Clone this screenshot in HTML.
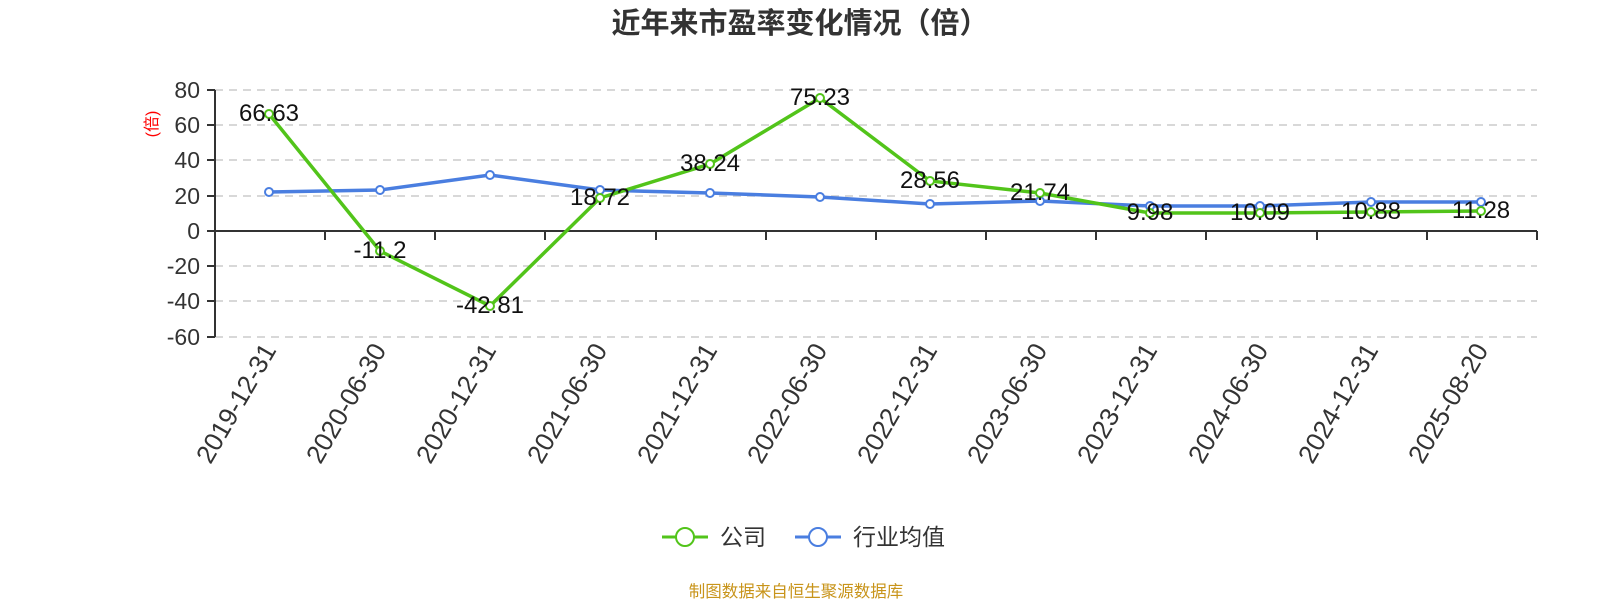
<!DOCTYPE html>
<html><head><meta charset="utf-8"><style>
body{margin:0;background:#fff;}
svg{display:block;font-family:"Liberation Sans","Noto Sans CJK SC",sans-serif;}
</style></head><body>
<svg width="1600" height="600" xmlns="http://www.w3.org/2000/svg">
<text x="800" y="33" text-anchor="middle" font-size="29" font-weight="bold" fill="#333">近年来市盈率变化情况（倍）</text>
<g stroke="#ccc" stroke-width="1.5" stroke-dasharray="8,6">
<line x1="215" y1="90" x2="1537" y2="90"/><line x1="215" y1="125" x2="1537" y2="125"/><line x1="215" y1="160" x2="1537" y2="160"/><line x1="215" y1="196" x2="1537" y2="196"/>
<line x1="215" y1="266" x2="1537" y2="266"/><line x1="215" y1="301" x2="1537" y2="301"/><line x1="215" y1="337" x2="1537" y2="337"/>
</g>
<g stroke="#333" stroke-width="2">
<line x1="215" y1="90" x2="215" y2="337"/>
<line x1="215" y1="231" x2="1537" y2="231"/>
<line x1="207" y1="90" x2="215" y2="90"/><line x1="207" y1="125" x2="215" y2="125"/><line x1="207" y1="160" x2="215" y2="160"/><line x1="207" y1="196" x2="215" y2="196"/><line x1="207" y1="231" x2="215" y2="231"/><line x1="207" y1="266" x2="215" y2="266"/><line x1="207" y1="301" x2="215" y2="301"/><line x1="207" y1="337" x2="215" y2="337"/>
<line x1="325" y1="231" x2="325" y2="240"/><line x1="435" y1="231" x2="435" y2="240"/><line x1="545" y1="231" x2="545" y2="240"/><line x1="656" y1="231" x2="656" y2="240"/><line x1="766" y1="231" x2="766" y2="240"/><line x1="876" y1="231" x2="876" y2="240"/><line x1="986" y1="231" x2="986" y2="240"/><line x1="1096" y1="231" x2="1096" y2="240"/><line x1="1206" y1="231" x2="1206" y2="240"/><line x1="1317" y1="231" x2="1317" y2="240"/><line x1="1427" y1="231" x2="1427" y2="240"/><line x1="1537" y1="231" x2="1537" y2="240"/>
</g>
<g font-size="23" fill="#333" text-anchor="end">
<text x="200" y="98">80</text><text x="200" y="133">60</text><text x="200" y="168">40</text><text x="200" y="204">20</text><text x="200" y="239">0</text><text x="200" y="274">-20</text><text x="200" y="309">-40</text><text x="200" y="345">-60</text>
</g>
<text transform="translate(157,124) rotate(-90)" text-anchor="middle" font-size="16" fill="red">(倍)</text>
<g font-size="26" fill="#333" text-anchor="end">
<text transform="translate(277,350) rotate(-60)">2019-12-31</text>
<text transform="translate(387,350) rotate(-60)">2020-06-30</text>
<text transform="translate(497,350) rotate(-60)">2020-12-31</text>
<text transform="translate(608,350) rotate(-60)">2021-06-30</text>
<text transform="translate(718,350) rotate(-60)">2021-12-31</text>
<text transform="translate(828,350) rotate(-60)">2022-06-30</text>
<text transform="translate(938,350) rotate(-60)">2022-12-31</text>
<text transform="translate(1048,350) rotate(-60)">2023-06-30</text>
<text transform="translate(1158,350) rotate(-60)">2023-12-31</text>
<text transform="translate(1269,350) rotate(-60)">2024-06-30</text>
<text transform="translate(1379,350) rotate(-60)">2024-12-31</text>
<text transform="translate(1489,350) rotate(-60)">2025-08-20</text>
</g>
<polyline fill="none" stroke="#4a7ee0" stroke-width="3.5" points="269,192 380,190 490,175 600,190 710,193 820,197 930,204 1040,201 1150,206 1260,206 1371,202 1481,202"/>
<polyline fill="none" stroke="#52c41a" stroke-width="3.5" points="269,114 380,251 490,306 600,198 710,164 820,98 930,181 1040,193 1150,213 1260,213 1371,212 1481,211"/>
<g fill="#fff" stroke="#4a7ee0" stroke-width="2">
<circle cx="269" cy="192" r="4"/><circle cx="380" cy="190" r="4"/><circle cx="490" cy="175" r="4"/><circle cx="600" cy="190" r="4"/><circle cx="710" cy="193" r="4"/><circle cx="820" cy="197" r="4"/><circle cx="930" cy="204" r="4"/><circle cx="1040" cy="201" r="4"/><circle cx="1150" cy="206" r="4"/><circle cx="1260" cy="206" r="4"/><circle cx="1371" cy="202" r="4"/><circle cx="1481" cy="202" r="4"/>
</g>
<g fill="#fff" stroke="#52c41a" stroke-width="2">
<circle cx="269" cy="114" r="4"/><circle cx="380" cy="251" r="4"/><circle cx="490" cy="306" r="4"/><circle cx="600" cy="198" r="4"/><circle cx="710" cy="164" r="4"/><circle cx="820" cy="98" r="4"/><circle cx="930" cy="181" r="4"/><circle cx="1040" cy="193" r="4"/><circle cx="1150" cy="213" r="4"/><circle cx="1260" cy="213" r="4"/><circle cx="1371" cy="212" r="4"/><circle cx="1481" cy="211" r="4"/>
</g>
<g font-size="24" fill="#111" text-anchor="middle">
<text x="269" y="121">66.63</text><text x="380" y="258">-11.2</text><text x="490" y="313">-42.81</text><text x="600" y="205">18.72</text><text x="710" y="171">38.24</text><text x="820" y="105">75.23</text><text x="930" y="188">28.56</text><text x="1040" y="200">21.74</text><text x="1150" y="220">9.98</text><text x="1260" y="220">10.09</text><text x="1371" y="219">10.88</text><text x="1481" y="218">11.28</text>
</g>
<line x1="662" y1="537" x2="708" y2="537" stroke="#52c41a" stroke-width="3"/>
<circle cx="685" cy="537" r="9" fill="#fff" stroke="#52c41a" stroke-width="2"/>
<text x="720" y="545" font-size="23" fill="#333">公司</text>
<line x1="795" y1="537" x2="841" y2="537" stroke="#4a7ee0" stroke-width="3"/>
<circle cx="818" cy="537" r="9" fill="#fff" stroke="#4a7ee0" stroke-width="2"/>
<text x="853" y="545" font-size="23" fill="#333">行业均值</text>
<text x="796" y="597" text-anchor="middle" font-size="16.5" fill="#c8941a">制图数据来自恒生聚源数据库</text>
</svg>
</body></html>
